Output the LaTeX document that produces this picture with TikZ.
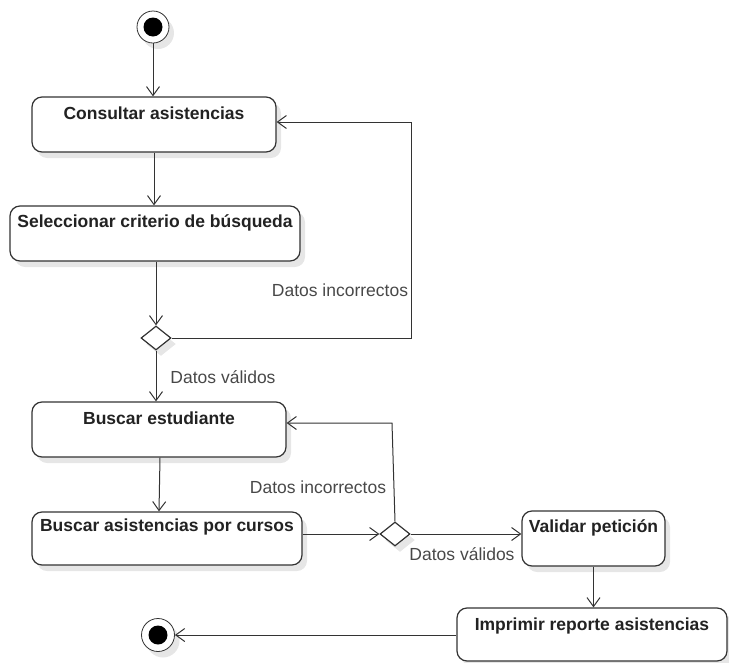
\documentclass[tikz,border=0pt]{standalone}
\usepackage{fontspec}
\setmainfont{Liberation Sans}
\usetikzlibrary{arrows.meta,shapes.geometric,shadows}
\definecolor{ink}{HTML}{333333}
\definecolor{txt}{HTML}{222222}
\definecolor{lbl}{HTML}{484848}
\definecolor{shd}{HTML}{E6E6E6}
\tikzset{
  softshadow/.style={drop shadow={shadow xshift=5pt, shadow yshift=-6pt, fill=shd, opacity=1}},
  act/.style={draw=ink, line width=1.2pt, rounded corners=10pt, fill=white, softshadow, inner sep=0pt},
  acttext/.style={text=txt, font=\fontsize{17.5}{20}\selectfont\bfseries},
  guard/.style={text=lbl, font=\fontsize{17.5}{20}\selectfont},
  decision/.style={draw=ink, line width=1.2pt, diamond, fill=white, inner sep=0pt, minimum width=30pt, minimum height=24pt, softshadow},
  flow/.style={draw=ink, line width=1pt, -{Straight Barb[length=9pt,width=13pt,line width=1pt]}},
  plainline/.style={draw=ink, line width=1pt},
}
\begin{document}
\begin{tikzpicture}[x=1pt,y=-1pt]
\useasboundingbox (0,0) rectangle (729,662);

% initial and final states
\node[circle, draw=ink, line width=0.8pt, fill=white, minimum size=32pt, inner sep=0pt, softshadow] (start) at (153,27) {};
\node[circle, fill=black, minimum size=19pt, inner sep=0pt] (startdot) at (start) {};
\node[circle, draw=ink, line width=0.8pt, fill=white, minimum size=33pt, inner sep=0pt, softshadow] (finish) at (158,635) {};
\node[circle, fill=black, minimum size=19pt, inner sep=0pt] (finishdot) at (finish) {};

% activities
\node[act, minimum width=244pt, minimum height=55pt,
      label={[acttext, anchor=center, yshift=-17pt]north:Consultar asistencias}] (cons) at (154,124.5) {};
\node[act, minimum width=290pt, minimum height=55pt,
      label={[acttext, anchor=center, yshift=-17pt]north:Seleccionar criterio de búsqueda}] (sel) at (155,233.5) {};
\node[act, minimum width=254pt, minimum height=55pt,
      label={[acttext, anchor=center, yshift=-17pt]north:Buscar estudiante}] (best) at (159,429.5) {};
\node[act, minimum width=270pt, minimum height=53pt,
      label={[acttext, anchor=center, yshift=-16pt]north:Buscar asistencias por cursos}] (basis) at (167,538.5) {};
\node[act, minimum width=143pt, minimum height=55pt,
      label={[acttext, anchor=center, yshift=-17pt]north:Validar petición}] (val) at (593.5,538.5) {};
\node[act, minimum width=270pt, minimum height=53pt,
      label={[acttext, anchor=center, yshift=-19pt]north:Imprimir reporte asistencias}] (imp) at (592,634.5) {};

% decisions
\node[decision] (d1) at (156,338) {};
\node[decision] (d2) at (395,534) {};

% bend points of the return loops
\coordinate (k1) at (411,122);
\coordinate (k2) at (392,423);

% control flow
\draw[flow] (start) -- (start |- cons.north);
\draw[flow] (cons.south) -- (cons.south |- sel.north);
\draw[flow] (sel.south -| d1) -- (d1.north);
\draw[flow] (d1.south) -- (d1.south |- best.north);
\draw[flow] (d1.east) -| (k1) -- (cons.east |- k1);
\draw[flow] (best.south) ++(1,0) -- (best.south |- basis.north);
\draw[flow] (basis.east |- d2) -- (d2.west);
\draw[flow] (d2.north) -- (k2) -- (best.east |- k2);
\draw[flow] (d2.east) -- (val.west |- d2);
\draw[flow] (val.south) -- (val.south |- imp.north);
\draw[flow] (imp.west |- finish) -- (finish.east);

% guards
\node[guard] (g1) at (340,290) {Datos incorrectos};
\node[guard] (g2) at (223,377) {Datos válidos};
\node[guard] (g3) at (318,487) {Datos incorrectos};
\node[guard] (g4) at (462,554) {Datos válidos};
\end{tikzpicture}
\end{document}
